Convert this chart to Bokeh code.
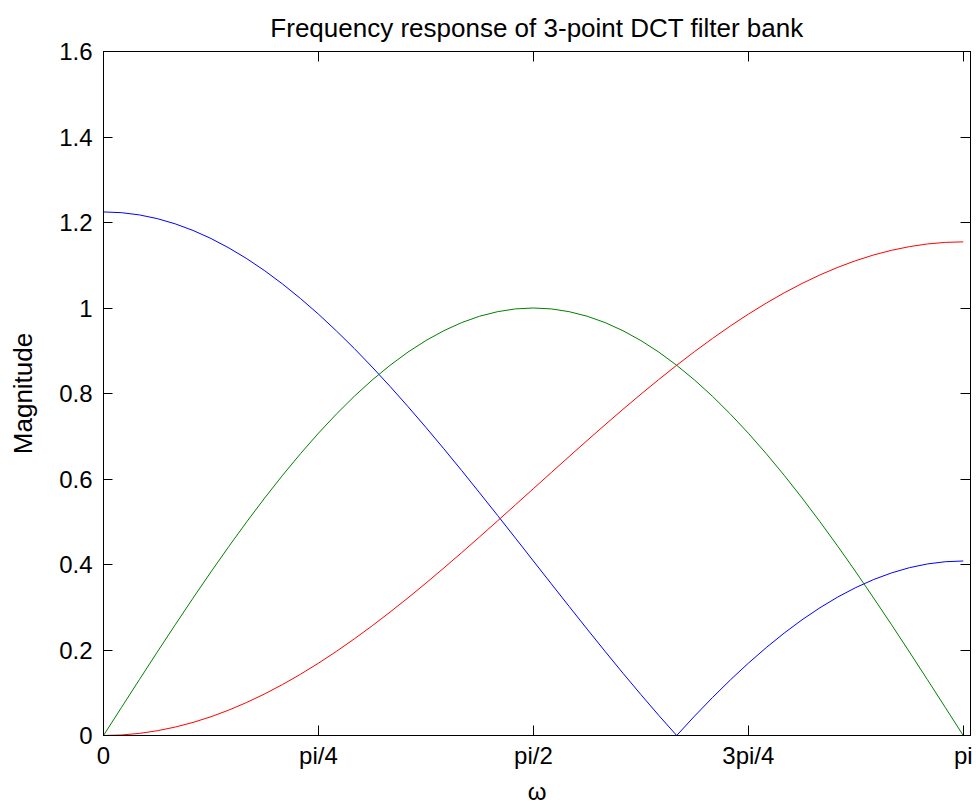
from bokeh.plotting import figure
from bokeh.models import LinearAxis, FixedTicker, Range1d
from bokeh.embed import file_html
from bokeh.resources import INLINE

# Frequency samples (rad) and magnitudes
omega = [0.0, 0.0654, 0.1309, 0.1963, 0.2618, 0.3272, 0.3927, 0.4581, 0.5236,
         0.5890, 0.6545, 0.7199, 0.7854, 0.8508, 0.9163, 0.9817, 1.0472,
         1.1126, 1.1781, 1.2435, 1.3090, 1.3744, 1.4399, 1.5053, 1.5708,
         1.6362, 1.7017, 1.7671, 1.8326, 1.8980, 1.9635, 2.0289, 2.0944,
         2.1598, 2.2253, 2.2907, 2.3562, 2.4216, 2.4871, 2.5525, 2.6180,
         2.6834, 2.7489, 2.8143, 2.8798, 2.9452, 3.0107, 3.0761, 3.1416]

h0_blue = [1.2247, 1.2230, 1.2178, 1.2091, 1.1969, 1.1814, 1.1626, 1.1405, 1.1154,
           1.0872, 1.0560, 1.0221, 0.9856, 0.9466, 0.9053, 0.8619, 0.8165,
           0.7694, 0.7207, 0.6707, 0.6196, 0.5675, 0.5148, 0.4617, 0.4082,
           0.3549, 0.3017, 0.2490, 0.1969, 0.1458, 0.0958, 0.0471, 0.0,
           0.0454, 0.0888, 0.1301, 0.1691, 0.2056, 0.2395, 0.2707, 0.2989,
           0.3241, 0.3461, 0.3649, 0.3804, 0.3926, 0.4013, 0.4065, 0.4082]

h1_green = [0.0, 0.0654, 0.1305, 0.1951, 0.2588, 0.3214, 0.3827, 0.4423, 0.5,
            0.5556, 0.6088, 0.6593, 0.7071, 0.7518, 0.7934, 0.8315, 0.8660,
            0.8969, 0.9239, 0.9469, 0.9659, 0.9808, 0.9914, 0.9979, 1.0,
            0.9979, 0.9914, 0.9808, 0.9659, 0.9469, 0.9239, 0.8969, 0.8660,
            0.8315, 0.7934, 0.7518, 0.7071, 0.6593, 0.6088, 0.5556, 0.5,
            0.4423, 0.3827, 0.3214, 0.2588, 0.1951, 0.1305, 0.0654, 0.0]

h2_red = [0.0, 0.0012, 0.0049, 0.0111, 0.0197, 0.0306, 0.0439, 0.0595, 0.0774,
          0.0973, 0.1193, 0.1433, 0.1691, 0.1967, 0.2259, 0.2566, 0.2887,
          0.3220, 0.3564, 0.3918, 0.4279, 0.4647, 0.5020, 0.5396, 0.5774,
          0.6151, 0.6527, 0.6900, 0.7268, 0.7629, 0.7983, 0.8327, 0.8660,
          0.8981, 0.9288, 0.9580, 0.9856, 1.0114, 1.0354, 1.0574, 1.0774,
          1.0952, 1.1108, 1.1241, 1.1350, 1.1436, 1.1498, 1.1535, 1.1547]

x_ticks = [0.0, 0.7854, 1.5708, 2.3562, 3.1416]
x_tick_labels = ["0", "pi/4", "pi/2", "3pi/4", "pi"]
y_ticks = [0.0, 0.2, 0.4, 0.6, 0.8, 1.0, 1.2, 1.4, 1.6]
y_tick_labels = ["0", "0.2", "0.4", "0.6", "0.8", "1", "1.2", "1.4", "1.6"]

FONT = "Liberation Sans"

p = figure(width=976, height=807, output_backend="svg", toolbar_location=None,
           x_axis_type=None, y_axis_type=None,
           x_range=Range1d(0, 3.168), y_range=Range1d(0, 1.6),
           min_border_left=103, min_border_right=6, min_border_top=51,
           min_border_bottom=72)
p.background_fill_color = "white"
p.border_fill_color = "white"
p.outline_line_color = "black"
p.outline_line_width = 1

p.title.text = "Frequency response of 3-point DCT filter bank"
p.title.text_font = FONT
p.title.text_font_size = "26px"
p.title.text_font_style = "normal"
p.title.text_color = "black"
p.title.align = "center"
p.title.standoff = 18

def style_axis(ax, ticks, labels, tick_len, show_labels):
    ax.ticker = FixedTicker(ticks=ticks)
    ax.major_tick_in = tick_len
    ax.major_tick_out = 0
    ax.minor_tick_in = 0
    ax.minor_tick_out = 0
    ax.axis_line_color = "black"
    ax.major_tick_line_color = "black"
    if show_labels:
        ax.major_label_overrides = {t: l for t, l in zip(ticks, labels)}
        ax.major_label_text_font = FONT
        ax.major_label_text_font_size = "24px"
        ax.major_label_text_color = "black"
    else:
        ax.major_label_text_font_size = "0px"
        ax.major_label_text_color = None
        ax.major_label_text_alpha = 0
        ax.major_label_standoff = 0

xb = LinearAxis()
style_axis(xb, x_ticks, x_tick_labels, 10, True)
xb.major_label_standoff = 6
xb.axis_label = "ω"
xb.axis_label_text_font = FONT
xb.axis_label_text_font_size = "24px"
xb.axis_label_text_font_style = "normal"
xb.axis_label_text_color = "black"
xb.axis_label_standoff = 6
p.add_layout(xb, "below")

xt = LinearAxis()
style_axis(xt, x_ticks, x_tick_labels, 10, False)
p.add_layout(xt, "above")

yl = LinearAxis()
style_axis(yl, y_ticks, y_tick_labels, 9, True)
yl.major_label_standoff = 11
yl.axis_label = "Magnitude"
yl.axis_label_text_font = FONT
yl.axis_label_text_font_size = "26px"
yl.axis_label_text_font_style = "normal"
yl.axis_label_text_color = "black"
yl.axis_label_standoff = 18
p.add_layout(yl, "left")

yr = LinearAxis()
style_axis(yr, y_ticks, y_tick_labels, 10, False)
p.add_layout(yr, "right")

p.xgrid.visible = False
p.ygrid.visible = False

p.line(omega, h0_blue, line_color="#0000ff", line_width=1)
p.line(omega, h1_green, line_color="#008000", line_width=1)
p.line(omega, h2_red, line_color="#ff0000", line_width=1)

open("out.html", "w").write(file_html(p, INLINE))
